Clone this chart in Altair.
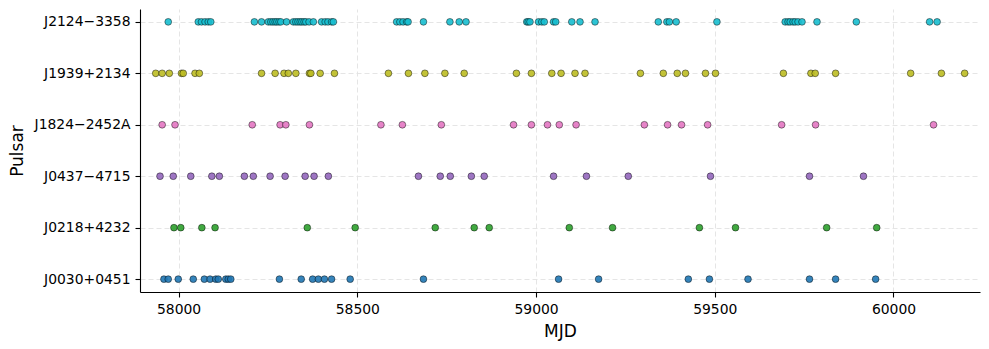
import altair as alt
import pandas as pd

pulsars = ["J0030+0451", "J0218+4232", "J0437−4715", "J1824−2452A", "J1939+2134", "J2124−3358"]
colors = ["#1f77b4", "#2ca02c", "#9467bd", "#e377c2", "#bcbd22", "#17becf"]
x_ticks = [58000, 58500, 59000, 59500, 60000]

mjd_j0030 = [57959, 57971, 57999, 58041, 58072, 58088, 58104, 58111, 58132, 58139, 58146,
             58282, 58343, 58375, 58391, 58408, 58428, 58480, 58685, 59063, 59175, 59426,
             59485, 59593, 59765, 59838, 59950]
mjd_j0218 = [57987, 58006, 58065, 58102, 58360, 58494, 58718, 58827, 58869, 59093, 59214,
             59457, 59558, 59813, 59953]
mjd_j0437 = [57948, 57985, 58034, 58093, 58114, 58184, 58209, 58256, 58298, 58354, 58379,
             58419, 58671, 58732, 58760, 58819, 58855, 59049, 59141, 59258, 59488, 59765, 59916]
mjd_j1824 = [57954, 57990, 58206, 58284, 58300, 58366, 58566, 58626, 58735, 58937, 58987,
             59032, 59065, 59112, 59303, 59368, 59407, 59480, 59687, 59782, 60112]
mjd_j1939 = [57936, 57954, 57974, 58008, 58013, 58046, 58058, 58232, 58270, 58295, 58307,
             58328, 58366, 58370, 58396, 58436, 58587, 58643, 58689, 58745, 58799, 58945,
             58987, 59044, 59070, 59109, 59137, 59292, 59356, 59395, 59418, 59474, 59502,
             59692, 59769, 59781, 59838, 60048, 60134, 60199]
mjd_j2124 = [57971, 58055, 58064, 58074, 58083, 58090, 58212, 58232, 58251, 58258, 58264,
             58270, 58275, 58281, 58286, 58302, 58321, 58328, 58334, 58340, 58345, 58351,
             58356, 58365, 58377, 58400, 58410, 58418, 58428, 58433, 58610, 58619, 58628,
             58638, 58642, 58685, 58759, 58785, 58804, 58974, 58978, 58983, 59007, 59016,
             59023, 59049, 59055, 59100, 59123, 59165, 59342, 59366, 59373, 59392, 59506,
             59697, 59705, 59711, 59719, 59725, 59733, 59744, 59786, 59896, 60101, 60122]

series = [mjd_j0030, mjd_j0218, mjd_j0437, mjd_j1824, mjd_j1939, mjd_j2124]
rows = []
for name, vals in zip(pulsars, series):
    for v in vals:
        rows.append({"Pulsar": name, "MJD": v})
df = pd.DataFrame(rows)

chart = alt.Chart(df).mark_circle(
    size=46, fillOpacity=0.9, stroke="black", strokeWidth=0.6, strokeOpacity=0.75
).encode(
    x=alt.X("MJD:Q",
            scale=alt.Scale(domain=[57892, 60242], nice=False, zero=False),
            axis=alt.Axis(values=x_ticks, format="d", title="MJD", titlePadding=8)),
    y=alt.Y("Pulsar:N", sort=list(reversed(pulsars)),
            scale=alt.Scale(type="point", padding=0.25),
            axis=alt.Axis(title="Pulsar", titlePadding=8)),
    color=alt.Color("Pulsar:N", scale=alt.Scale(domain=pulsars, range=colors), legend=None),
).properties(
    width=840, height=283,
    autosize=alt.AutoSizeParams(type="none"),
    padding={"left": 132, "top": 1, "right": 1, "bottom": 49},
).configure_view(
    stroke=None
).configure_axis(
    labelFont="DejaVu Sans", labelFontSize=13.9, labelColor="black",
    titleFont="DejaVu Sans", titleFontSize=17, titleFontWeight="normal", titleColor="black",
    tickColor="black", tickSize=5, tickWidth=1.1, domainColor="black", domainWidth=1.1,
    labelPadding=5, grid=True, gridColor="#e2e2e2", gridDash=[5, 3], gridWidth=0.9,
)

chart.save("out.html", embed_options={"renderer": "svg", "actions": False})
